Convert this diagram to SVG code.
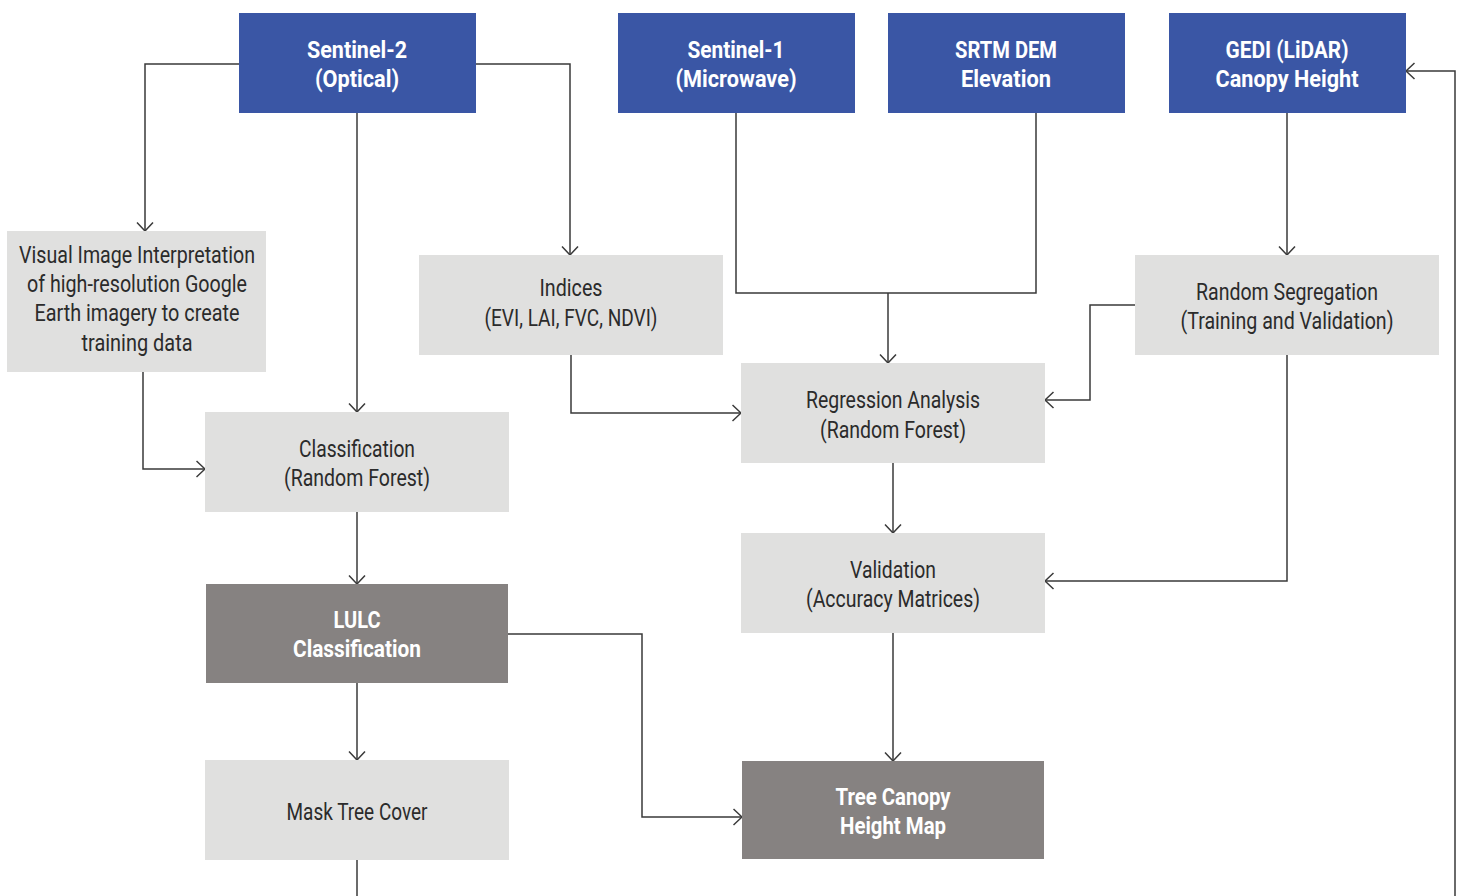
<svg xmlns="http://www.w3.org/2000/svg" width="1461" height="896" viewBox="0 0 1461 896">
<style>
.src rect{fill:#3a56a5}
.lt rect{fill:#e0e0df}
.dk rect{fill:#868281}
text{font-family:Roboto,"Liberation Sans",sans-serif;font-size:23px;text-anchor:middle}
.src text,.dk text{fill:#fff;font-weight:bold}
.lt text{fill:#2b2b2b}
.c path{fill:none;stroke:#3a3a3a;stroke-width:1.5}
</style>
<defs>
<marker id="a" viewBox="0 0 10 20" refX="9.5" refY="10" markerWidth="10" markerHeight="20" markerUnits="userSpaceOnUse" orient="auto">
<path d="M1,2 L9.5,10 L1,18" fill="none" stroke="#3a3a3a" stroke-width="1.5"/>
</marker>
</defs>
<rect width="1461" height="896" fill="#fff"/>
<g class="c">
<path d="M239,64 H145 V231" marker-end="url(#a)"/>
<path d="M476,64 H570 V255" marker-end="url(#a)"/>
<path d="M357,113 V412" marker-end="url(#a)"/>
<path d="M143,372 V469 H205" marker-end="url(#a)"/>
<path d="M571,355 V413 H741" marker-end="url(#a)"/>
<path d="M736,113 V293 H1036 V113"/>
<path d="M888,293 V363" marker-end="url(#a)"/>
<path d="M1287,113 V255" marker-end="url(#a)"/>
<path d="M1135,305 H1090 V400 H1045" marker-end="url(#a)"/>
<path d="M1287,355 V581 H1045" marker-end="url(#a)"/>
<path d="M893,463 V533" marker-end="url(#a)"/>
<path d="M357,512 V584" marker-end="url(#a)"/>
<path d="M508,634 H642 V817 H742" marker-end="url(#a)"/>
<path d="M893,633 V761" marker-end="url(#a)"/>
<path d="M357,683 V760" marker-end="url(#a)"/>
<path d="M357,860 V896"/>
<path d="M1455,896 V71 H1406" marker-end="url(#a)"/>
</g>
<g id="sentinel2" class="src"><rect x="239" y="13" width="237" height="100"/>
<text x="357" y="58" textLength="100" lengthAdjust="spacingAndGlyphs">Sentinel-2</text>
<text x="357" y="87" textLength="84" lengthAdjust="spacingAndGlyphs">(Optical)</text></g>
<g id="sentinel1" class="src"><rect x="618" y="13" width="237" height="100"/>
<text x="736" y="58" textLength="97" lengthAdjust="spacingAndGlyphs">Sentinel-1</text>
<text x="736" y="87" textLength="121" lengthAdjust="spacingAndGlyphs">(Microwave)</text></g>
<g id="srtm" class="src"><rect x="888" y="13" width="237" height="100"/>
<text x="1006" y="58" textLength="102" lengthAdjust="spacingAndGlyphs">SRTM DEM</text>
<text x="1006" y="87" textLength="90" lengthAdjust="spacingAndGlyphs">Elevation</text></g>
<g id="gedi" class="src"><rect x="1169" y="13" width="237" height="100"/>
<text x="1287" y="58" textLength="123" lengthAdjust="spacingAndGlyphs">GEDI (LiDAR)</text>
<text x="1287" y="87" textLength="143" lengthAdjust="spacingAndGlyphs">Canopy Height</text></g>
<g id="visual" class="lt"><rect x="7" y="231" width="259" height="141"/>
<text x="137" y="263" textLength="236" lengthAdjust="spacingAndGlyphs">Visual Image Interpretation</text>
<text x="137" y="292" textLength="220" lengthAdjust="spacingAndGlyphs">of high-resolution Google</text>
<text x="137" y="321" textLength="205" lengthAdjust="spacingAndGlyphs">Earth imagery to create</text>
<text x="137" y="351" textLength="111" lengthAdjust="spacingAndGlyphs">training data</text></g>
<g id="indices" class="lt"><rect x="419" y="255" width="304" height="100"/>
<text x="571" y="296" textLength="63" lengthAdjust="spacingAndGlyphs">Indices</text>
<text x="571" y="326" textLength="173" lengthAdjust="spacingAndGlyphs">(EVI, LAI, FVC, NDVI)</text></g>
<g id="segregation" class="lt"><rect x="1135" y="255" width="304" height="100"/>
<text x="1287" y="300" textLength="182" lengthAdjust="spacingAndGlyphs">Random Segregation</text>
<text x="1287" y="329" textLength="213" lengthAdjust="spacingAndGlyphs">(Training and Validation)</text></g>
<g id="regression" class="lt"><rect x="741" y="363" width="304" height="100"/>
<text x="893" y="408" textLength="174" lengthAdjust="spacingAndGlyphs">Regression Analysis</text>
<text x="893" y="438" textLength="146" lengthAdjust="spacingAndGlyphs">(Random Forest)</text></g>
<g id="classification" class="lt"><rect x="205" y="412" width="304" height="100"/>
<text x="357" y="457" textLength="116" lengthAdjust="spacingAndGlyphs">Classification</text>
<text x="357" y="486" textLength="146" lengthAdjust="spacingAndGlyphs">(Random Forest)</text></g>
<g id="validation" class="lt"><rect x="741" y="533" width="304" height="100"/>
<text x="893" y="578" textLength="86" lengthAdjust="spacingAndGlyphs">Validation</text>
<text x="893" y="607" textLength="174" lengthAdjust="spacingAndGlyphs">(Accuracy Matrices)</text></g>
<g id="lulc" class="dk"><rect x="206" y="584" width="302" height="99"/>
<text x="357" y="628" textLength="47" lengthAdjust="spacingAndGlyphs">LULC</text>
<text x="357" y="657" textLength="128" lengthAdjust="spacingAndGlyphs">Classification</text></g>
<g id="mask" class="lt"><rect x="205" y="760" width="304" height="100"/>
<text x="357" y="820" textLength="141" lengthAdjust="spacingAndGlyphs">Mask Tree Cover</text></g>
<g id="canopy" class="dk"><rect x="742" y="761" width="302" height="98"/>
<text x="893" y="805" textLength="115" lengthAdjust="spacingAndGlyphs">Tree Canopy</text>
<text x="893" y="834" textLength="106" lengthAdjust="spacingAndGlyphs">Height Map</text></g>
</svg>
